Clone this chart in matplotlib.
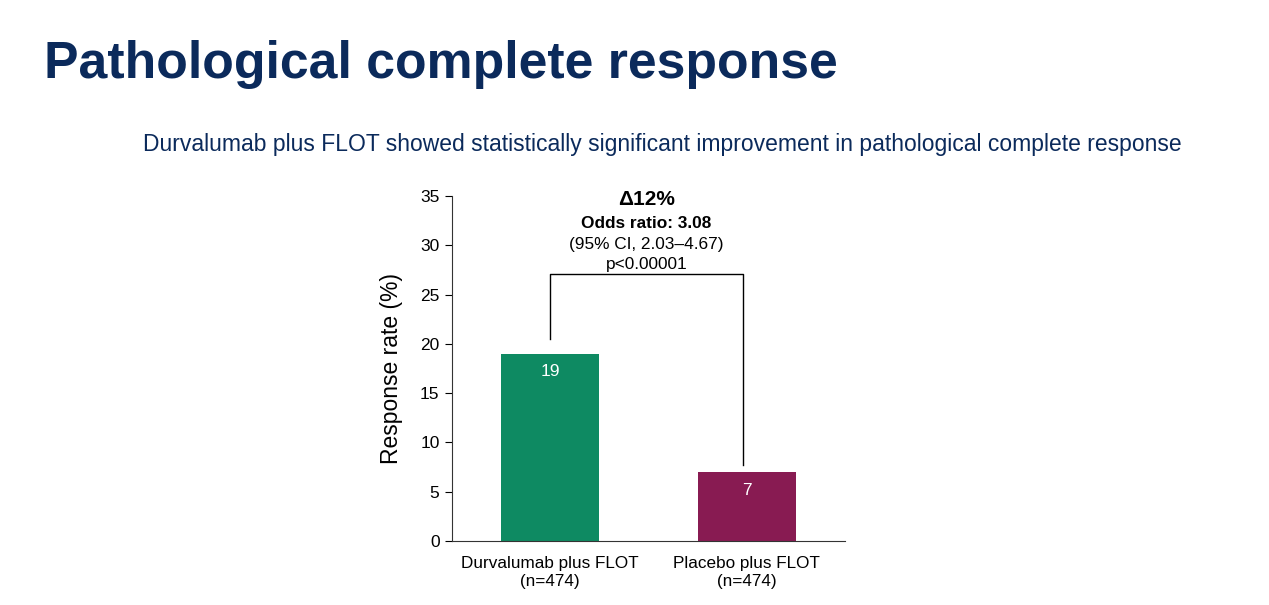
"""Pathological complete response bar chart."""

import matplotlib

matplotlib.use("Agg")
from matplotlib import pyplot as plt

plt.rcParams["font.family"] = ["Liberation Sans", "DejaVu Sans"]

arms = ["Durvalumab plus FLOT\n(n=474)", "Placebo plus FLOT\n(n=474)"]
rates = [19, 7]
colors = ["#0E8A62", "#881B52"]
y_ticks = [0, 5, 10, 15, 20, 25, 30, 35]

navy = "#0B2A5B"

fig = plt.figure(figsize=(12.69, 6.05), dpi=100)
fig.text(0.035, 0.893, "Pathological complete response", fontsize=37.3,
         fontweight="bold", color=navy, ha="left", va="center")
fig.text(0.522, 0.761,
         "Durvalumab plus FLOT showed statistically significant improvement in pathological complete response",
         fontsize=16.5, color=navy, ha="center", va="center")

ax = fig.add_axes([0.3562, 0.1058, 0.3097, 0.5702])
x = list(range(len(rates)))
bars = ax.bar(x, rates, width=0.5, color=colors)
for bar, val in zip(bars, rates):
    ax.annotate(str(val), (bar.get_x() + bar.get_width() / 2, val),
                xytext=(0, -13), textcoords="offset points",
                ha="center", va="center", color="white", fontsize=12.5)

# significance bracket
ax.plot([0, 0, 0.982, 0.982], [20.5, 27.1, 27.1, 7.7], color="black", lw=1)
ax.text(0.49, 34.6, "\u039412%", ha="center", va="center", fontsize=15, fontweight="bold")
ax.text(0.49, 32.2, "Odds ratio: 3.08", ha="center", va="center", fontsize=12.4, fontweight="bold")
ax.text(0.49, 30.1, "(95% CI, 2.03\u20134.67)", ha="center", va="center", fontsize=12.4)
ax.text(0.49, 28.1, "p<0.00001", ha="center", va="center", fontsize=12.4)

ax.set_xlim(-0.5, 1.5)
ax.set_ylim(0, 35)
ax.set_yticks(y_ticks)
ax.set_xticks(x, arms, linespacing=1.2)
ax.tick_params(axis="y", length=5, labelsize=12.5, direction="out", pad=4)
ax.tick_params(axis="x", length=0, labelsize=12.3, pad=11)
ax.set_ylabel("Response rate (%)", fontsize=16.5, labelpad=12)
for side in ("top", "right"):
    ax.spines[side].set_visible(False)
for side in ("left", "bottom"):
    ax.spines[side].set_color("#333333")
for line in ax.lines:
    line.set_clip_on(False)

fig.savefig("out.png", dpi=100)
plt.close(fig)
